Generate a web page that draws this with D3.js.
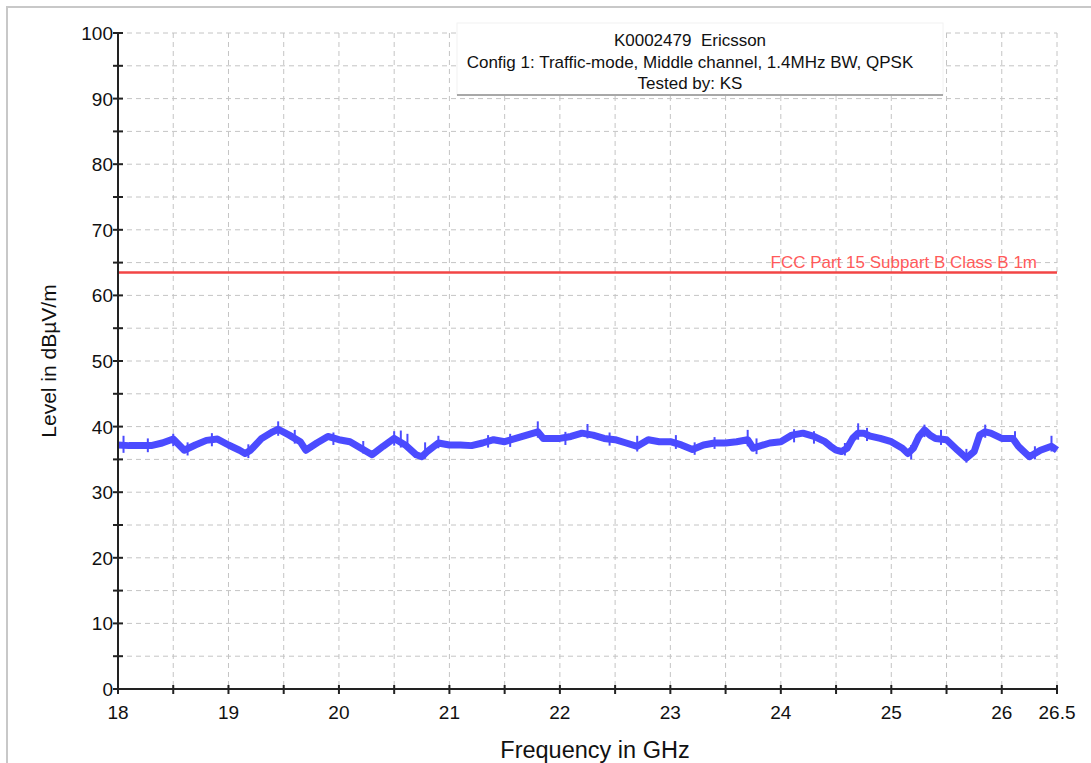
<!DOCTYPE html>
<html lang="en">
<head>
<meta charset="UTF-8">
<title>K0002479 Ericsson - radiated emissions</title>
<script src="https://d3js.org/d3.v7.min.js"></script>
<style>
  body { margin: 0; background: #fff; font-family: "Liberation Sans", Arial, sans-serif; }
  svg { display: block; }
  text { white-space: pre; }
  .grid line { stroke: #c4c4c4; stroke-dasharray: 5,4; stroke-width: 1; }
</style>
</head>
<body>
<svg width="1091" height="763"></svg>
<script>
// header text
const titleLines = ["K0002479  Ericsson", "Config 1: Traffic-mode, Middle channel, 1.4MHz BW, QPSK", "Tested by: KS"];

// axis ticks
const xTicks = [18, 18.5, 19, 19.5, 20, 20.5, 21, 21.5, 22, 22.5, 23, 23.5, 24, 24.5, 25, 25.5, 26, 26.5];
const xLabels = [18, 19, 20, 21, 22, 23, 24, 25, 26, 26.5];
const yTicks = [0, 5, 10, 15, 20, 25, 30, 35, 40, 45, 50, 55, 60, 65, 70, 75, 80, 85, 90, 95, 100];
const yLabels = [0, 10, 20, 30, 40, 50, 60, 70, 80, 90, 100];

// limit line
const limitName = "FCC Part 15 Subpart B Class B 1m";
const limitLevel = 63.5;

const traceFreq = [18.0, 18.1, 18.2, 18.3, 18.4, 18.5, 18.6, 18.7, 18.8, 18.9, 19.0, 19.1, 19.15, 19.2, 19.3, 19.4, 19.45, 19.55, 19.65, 19.7, 19.8, 19.9, 20.0,
  20.1, 20.2, 20.3, 20.4, 20.5, 20.6, 20.7, 20.75, 20.8, 20.9, 21.0, 21.1, 21.2, 21.3, 21.4, 21.5, 21.6, 21.7, 21.8, 21.85, 21.9, 22.0, 22.1, 22.2,
  22.3, 22.4, 22.5, 22.6, 22.7, 22.8, 22.9, 23.0, 23.1, 23.2, 23.3, 23.4, 23.5, 23.6, 23.7, 23.75, 23.8, 23.9, 24.0, 24.1, 24.2, 24.3,
  24.4, 24.45, 24.5, 24.55, 24.6, 24.65, 24.7, 24.75, 24.8, 24.9, 25.0, 25.1, 25.15, 25.2, 25.25, 25.3, 25.35, 25.4, 25.5, 25.6, 25.68, 25.75,
  25.8, 25.85, 25.9, 26.0, 26.1, 26.15, 26.25, 26.35, 26.45, 26.5];
const traceLevel = [37.2, 37.1, 37.1, 37.1, 37.5, 38.1, 36.4, 37.2, 37.9, 38.1, 37.2, 36.4, 35.9, 36.4, 38.2, 39.2, 39.6, 38.7, 37.7, 36.4, 37.5, 38.5, 38.0,
  37.7, 36.7, 35.7, 37.0, 38.2, 37.2, 35.7, 35.4, 36.2, 37.5, 37.2, 37.2, 37.1, 37.5, 38.0, 37.7, 38.2, 38.7, 39.2, 38.2, 38.2, 38.2, 38.5, 39.0,
  38.7, 38.2, 38.0, 37.5, 37.0, 38.0, 37.7, 37.7, 37.2, 36.5, 37.2, 37.5, 37.5, 37.7, 38.0, 36.7, 37.0, 37.5, 37.7, 38.7, 39.0, 38.5,
  37.7, 37.0, 36.4, 36.2, 36.7, 38.2, 39.0, 39.0, 38.6, 38.2, 37.7, 36.7, 35.9, 36.7, 38.5, 39.5, 38.7, 38.2, 38.0, 36.4, 35.2, 36.2,
  38.7, 39.2, 39.0, 38.2, 38.2, 37.0, 35.4, 36.4, 37.0, 36.4];

// narrow noise spikes around the trace (GHz, top dBuV/m, bottom dBuV/m)
const spikeFreq = [18.05, 18.27, 18.5, 18.63, 18.85, 19.18, 19.45, 19.6, 19.95, 20.22, 20.5, 20.56, 20.62, 20.78, 20.9, 21.35, 21.55, 21.8, 22.05, 22.25,
  22.45, 22.7, 23.05, 23.22, 23.4, 23.7, 23.78, 24.12, 24.3, 24.58, 24.7, 24.78, 25.18, 25.3, 25.45, 25.68, 25.85, 26.12, 26.3, 26.45];
const spikeTop = [38.6, 38.2, 38.9, 37.6, 39.0, 37.3, 40.8, 39.5, 39.1, 37.8, 39.3, 39.4, 38.9, 37.6, 38.6, 38.7, 38.9, 40.8, 39.2, 40.4,
  39.1, 38.6, 38.7, 37.6, 38.4, 39.5, 38.2, 39.6, 39.3, 37.5, 40.5, 39.8, 37.2, 40.3, 39.5, 36.6, 40.3, 39.3, 37.0, 38.6];
const spikeBottom = [36.0, 36.1, 37.0, 35.6, 37.0, 35.2, 38.6, 37.4, 37.2, 35.9, 37.1, 36.8, 36.5, 35.1, 36.7, 36.8, 36.9, 38.3, 37.2, 38.2,
  37.1, 36.2, 36.6, 35.7, 36.6, 37.0, 35.8, 37.6, 37.4, 35.6, 38.0, 37.8, 35.0, 38.4, 37.2, 34.5, 38.3, 37.1, 35.0, 36.2];

const svg = d3.select("svg");
const margin = { left: 118, right: 34, top: 33, bottom: 74 };
const width = 1091 - margin.left - margin.right;
const height = 763 - margin.top - margin.bottom;

// outer frame
svg.append("path").attr("d", "M7,763 V7 H1091")
  .attr("fill", "none").attr("stroke", "#c8c8c8").attr("stroke-width", 2);

const g = svg.append("g").attr("transform", `translate(${margin.left},${margin.top})`);

const x = d3.scaleLinear().domain([18, 26.5]).range([0, width]);
const y = d3.scaleLinear().domain([0, 100]).range([height, 0]);

// grid
const grid = g.append("g").attr("class", "grid");
grid.selectAll(".gx").data(xTicks.slice(1)).join("line")
  .attr("x1", d => x(d)).attr("x2", d => x(d)).attr("y1", 0).attr("y2", height);
grid.selectAll(".gy").data(yTicks.slice(1)).join("line")
  .attr("x1", 0).attr("x2", width).attr("y1", d => y(d)).attr("y2", d => y(d));

// title box
const boxX = 457 - margin.left, boxY = 23 - margin.top, boxW = 486, boxH = 72;
g.append("rect").attr("x", boxX).attr("y", boxY).attr("width", boxW).attr("height", boxH)
  .attr("fill", "#fff").attr("stroke", "#f2f2f2");
g.append("line").attr("x1", boxX).attr("x2", boxX + boxW).attr("y1", boxY + boxH).attr("y2", boxY + boxH)
  .attr("stroke", "#a8a8a8").attr("stroke-width", 2);
g.selectAll(".title").data(titleLines).join("text")
  .attr("x", 690 - margin.left)
  .attr("y", (d, i) => boxY + 23 + i * 21.5)
  .attr("text-anchor", "middle").attr("font-size", 17).attr("fill", "#111")
  .text(d => d);

// limit line
g.append("line").attr("x1", 0).attr("x2", width).attr("y1", y(limitLevel)).attr("y2", y(limitLevel))
  .attr("stroke", "#f24545").attr("stroke-width", 2.5);
g.append("text").attr("x", x(26.5) - 20).attr("y", y(limitLevel) - 4)
  .attr("text-anchor", "end").attr("font-size", 17).attr("fill", "#ff5a5a")
  .text(limitName);

// trace
const blue = "#4b4bff";
const trace = traceFreq.map((f, i) => [f, traceLevel[i]]);
g.append("path").datum(trace)
  .attr("fill", "none").attr("stroke", blue).attr("stroke-width", 7)
  .attr("stroke-linejoin", "round")
  .attr("d", d3.line().x(d => x(d[0])).y(d => y(d[1])));
g.selectAll(".spike").data(spikeFreq).join("line")
  .attr("x1", d => x(d)).attr("x2", d => x(d))
  .attr("y1", (d, i) => y(spikeTop[i]))
  .attr("y2", (d, i) => y(spikeBottom[i]))
  .attr("stroke", blue).attr("stroke-width", 2);

// axes
const axisColor = "#222";
const yAxis = g.append("g");
yAxis.append("line").attr("x1", 0).attr("x2", 0).attr("y1", 0).attr("y2", height)
  .attr("stroke", axisColor).attr("stroke-width", 2);
yAxis.selectAll(".yt").data(yTicks).join("line")
  .attr("x1", -5).attr("x2", 5).attr("y1", d => y(d)).attr("y2", d => y(d))
  .attr("stroke", axisColor).attr("stroke-width", 2);
yAxis.selectAll(".yl").data(yLabels).join("text")
  .attr("x", -5).attr("y", d => y(d) + 7)
  .attr("text-anchor", "end").attr("font-size", 19).attr("fill", "#111")
  .text(d => d);

const xAxis = g.append("g");
xAxis.append("line").attr("x1", 0).attr("x2", width).attr("y1", height).attr("y2", height)
  .attr("stroke", axisColor).attr("stroke-width", 2);
xAxis.selectAll(".xt").data(xTicks).join("line")
  .attr("x1", d => x(d)).attr("x2", d => x(d)).attr("y1", height - 4).attr("y2", height + 5)
  .attr("stroke", axisColor).attr("stroke-width", 2);
xAxis.selectAll(".xl").data(xLabels).join("text")
  .attr("x", d => x(d)).attr("y", height + 30)
  .attr("text-anchor", "middle").attr("font-size", 19).attr("fill", "#111")
  .text(d => d);

// axis titles
g.append("text").attr("x", 595 - margin.left).attr("y", height + 69)
  .attr("text-anchor", "middle").attr("font-size", 23.5).attr("fill", "#111")
  .text("Frequency in GHz");
g.append("text").attr("transform", `translate(${56 - margin.left},${361 - margin.top}) rotate(-90)`)
  .attr("text-anchor", "middle").attr("font-size", 21).attr("fill", "#111")
  .text("Level in dBµV/m");
</script>
</body>
</html>
